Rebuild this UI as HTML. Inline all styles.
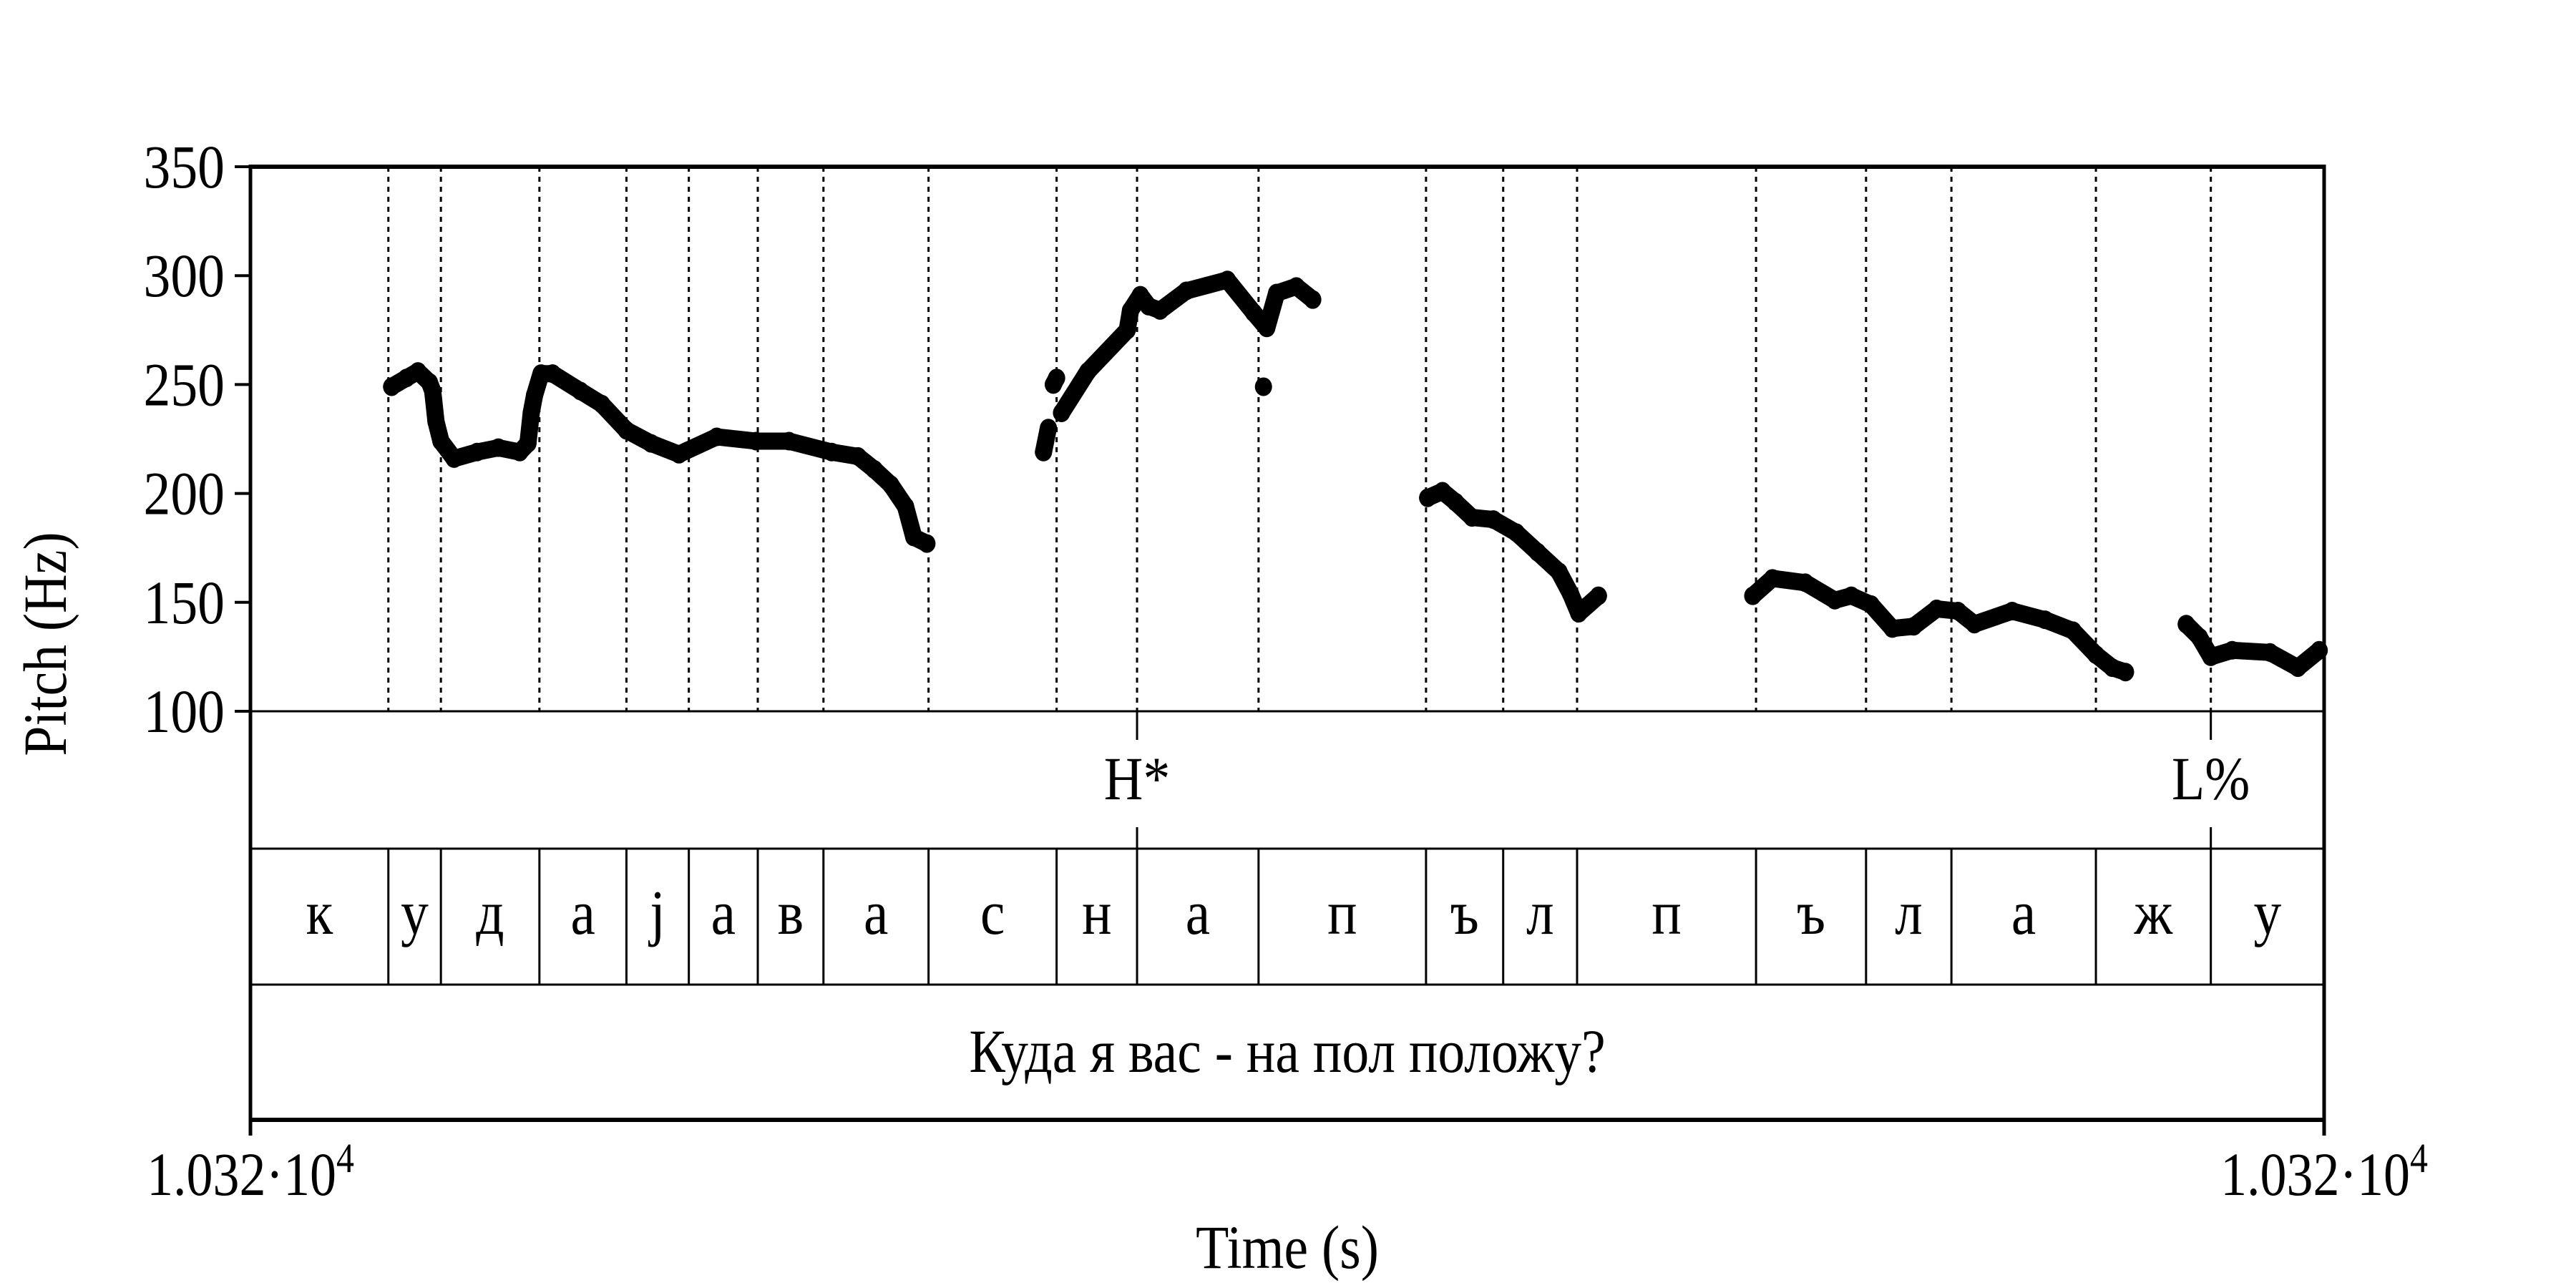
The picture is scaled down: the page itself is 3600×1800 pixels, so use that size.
<!DOCTYPE html>
<html><head><meta charset="utf-8">
<style>
html,body{margin:0;padding:0;background:#fff;}
svg{display:block;}
text{font-family:"Liberation Serif","DejaVu Serif",serif;fill:#000;}
</style></head>
<body>
<svg id="chart" width="3600" height="1800" viewBox="0 0 3600 1800" xmlns="http://www.w3.org/2000/svg"></svg>
<script>
// ---- data ----
const yTicks = [100,150,200,250,300,350];
// pitch contour: times (ms from start) and f0 (Hz); null separates voiced stretches
const times = [86,95,102,109,111,113,116,124,138,151,164,169,171,173,177,184,201,214,229,244,261,284,308,328,354,370,380,390,399,404,412,
  null,483,486,null,489,491,null,494,510,534,536,542,547,554,570,595,611,619,625,637,647,null,617,
  null,717,726,734,744,757,771,784,797,804,809,821,
  null,915,927,947,965,975,987,1000,1013,1027,1040,1050,1073,1093,1110,1124,1134,1142,
  null,1179,1187,1194,1207,1230,1247,1260];
const pitch = [249,253,256,251,247,233,224,216,219,221,219,223,237,245,255,255,247,241,229,223,218,226,224,224,219,217,211,204,194,180,177,
  null,219,230,null,250,253,null,237,256,275,284,291,286,284,293,298,283,276,292,295,289,null,249,
  null,198,201,196,189,188,182,173,164,154,145,153,
  null,153,161,159,151,153,149,138,139,147,146,140,146,142,137,126,120,118,
  null,140,134,125,128,127,120,128];
const boundaries = [84,116,176,229,267,309,349,413,491,540,614,716,763,808,917,984,1036,1124,1194];
const segLabels = ["к","у","д","а","ј","а","в","а","с","н","а","п","ъ","л","п","ъ","л","а","ж","у"];
const toneTimes = [540,1194];
const toneLabels = ["H*","L%"];
const sentence = "Куда я вас - на пол положу?";
const tMax = 1263;

// ---- layout ----
const X0=350, X1=3248, YT=233, YB=994, T1=1186, T2=1376, T3=1565;
const sx = t => X0 + t/tMax*(X1-X0);
const sy = f => YB - (f-100)/250*(YB-YT);
const svg = document.getElementById('chart');
const NS='http://www.w3.org/2000/svg';
function mk(tag, attrs, name, parent){
  const e=document.createElementNS(NS,tag);
  for(const k in attrs) e.setAttribute(k,attrs[k]);
  
  
  (parent||svg).appendChild(e); return e;
}
function txt(x,y,s,size,anchor,name){
  const e=mk('text',{x:0,y:0,'font-size':size,'text-anchor':anchor||'middle',transform:'translate('+x+','+y+') scale(0.88,1)'},name);
  e.textContent=s; return e;
}

// dotted boundary lines in pitch area
boundaries.forEach(b=>{
  mk('line',{x1:sx(b),x2:sx(b),y1:YT,y2:YB,stroke:'#000','stroke-width':3,'stroke-dasharray':'7 7'},'boundary-guide');
});
// segment boundaries in segment tier
boundaries.forEach(b=>{
  mk('line',{x1:sx(b),x2:sx(b),y1:T1,y2:T2,stroke:'#000','stroke-width':3},'segment-boundary');
});
// tone ticks
toneTimes.forEach((t,i)=>{
  mk('line',{x1:sx(t),x2:sx(t),y1:YB,y2:YB+40,stroke:'#000','stroke-width':3},'tone-tick');
  mk('line',{x1:sx(t),x2:sx(t),y1:T1-30,y2:T1,stroke:'#000','stroke-width':3},'tone-tick-lower');
  txt(sx(t),1117,toneLabels[i],86,'middle','tone-label');
});
// segment labels
const edges=[0].concat(boundaries,[tMax]);
segLabels.forEach((s,i)=>{
  txt((sx(edges[i])+sx(edges[i+1]))/2,1305,s,88,'middle','segment-label');
});
txt((X0+X1)/2,1498,sentence,86,'middle','sentence-label');

// frame
mk('line',{x1:X0,x2:X1,y1:YT,y2:YT,stroke:'#000','stroke-width':6},'top-border');
mk('line',{x1:X0,x2:X1,y1:YB,y2:YB,stroke:'#000','stroke-width':3},'pitch-baseline');
mk('line',{x1:X0,x2:X1,y1:T1,y2:T1,stroke:'#000','stroke-width':3},'tier-line');
mk('line',{x1:X0,x2:X1,y1:T2,y2:T2,stroke:'#000','stroke-width':3},'tier-line');
mk('line',{x1:X0,x2:X1,y1:T3,y2:T3,stroke:'#000','stroke-width':6},'bottom-border');
mk('line',{x1:X0,x2:X0,y1:YT-3,y2:T3+22,stroke:'#000','stroke-width':5},'y-axis');
mk('line',{x1:X1,x2:X1,y1:YT-3,y2:T3+22,stroke:'#000','stroke-width':5},'right-border');

// y ticks
yTicks.forEach(v=>{
  mk('line',{x1:X0-22,x2:X0,y1:sy(v),y2:sy(v),stroke:'#000','stroke-width':4},'y-tick');
  txt(X0-36,sy(v)+29,String(v),86,'end','y-tick-label');
});
const yl=mk('text',{x:0,y:0,'font-size':86,'text-anchor':'middle',transform:'translate(92,900) rotate(-90) scale(0.88,1)'},'y-axis-title');
yl.textContent='Pitch (Hz)';

// x labels
function xlab(x,name){
  const e=mk('text',{x:0,y:0,'font-size':86,'text-anchor':'middle',transform:'translate('+x+',1670) scale(0.86,1)'},name);
  e.appendChild(document.createTextNode('1.032·10'));
  const s=document.createElementNS(NS,'tspan');
  s.setAttribute('dy','-32'); s.setAttribute('font-size','58'); s.textContent='4';
  e.appendChild(s);
}
xlab(X0,'x-start-label'); xlab(X1,'x-end-label');
txt((X0+X1)/2,1772,'Time (s)',86,'middle','x-axis-title');

// pitch contour
let run=[];
function flush(){
  if(run.length>1){
    mk('polyline',{points:run.map(p=>p.join(',')).join(' '),fill:'none',stroke:'#000','stroke-width':24,'stroke-linejoin':'round','stroke-linecap':'round'},'pitch-contour');
  }
  run=[];
}
for(let i=0;i<times.length;i++){
  if(times[i]===null){flush();continue;}
  const x=sx(times[i]), y=sy(pitch[i]);
  run.push([x.toFixed(1),y.toFixed(1)]);
  mk('ellipse',{cx:x,cy:y,rx:12,ry:13,fill:'#000'},'pitch-point');
}
flush();
</script>
</body></html>
